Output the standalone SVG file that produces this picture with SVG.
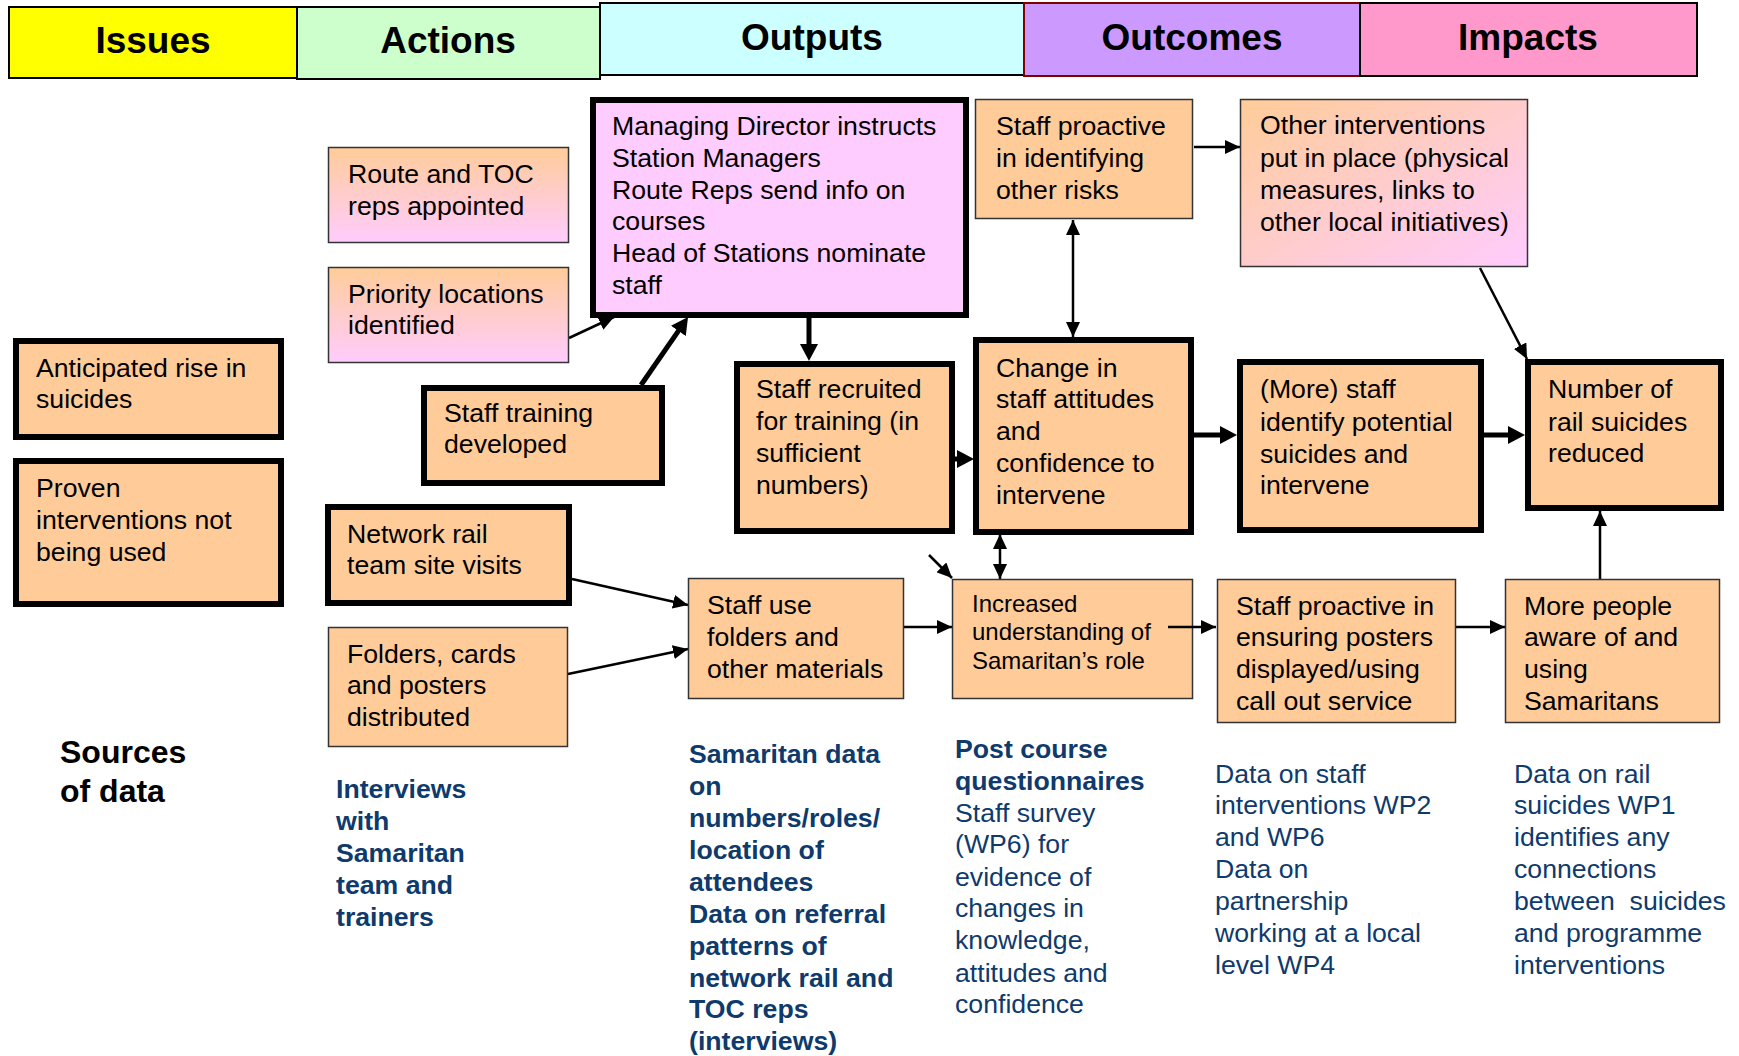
<svg xmlns="http://www.w3.org/2000/svg" width="1739" height="1056" viewBox="0 0 1739 1056">
<style>
text{font-family:"Liberation Sans",Arial,sans-serif;fill:#000}
.hd{font-size:37px;font-weight:bold;text-anchor:middle}
.t{font-size:26.67px}
.s{font-size:24px}
.src{font-size:26.67px;fill:#0E3A6C}
.b{font-weight:bold}
.blk{font-size:32px;font-weight:bold}
.hb{stroke:#000;stroke-width:2}
.thk{fill:#FFCC99;stroke:#000;stroke-width:6}
.thn{fill:#FFCC99;stroke:#333;stroke-width:1.5}
.ln{stroke:#000;stroke-width:2.5;fill:none}
.lk{stroke:#000;stroke-width:5;fill:none}
</style>
<defs>
<linearGradient id="gV" x1="0" y1="0" x2="0" y2="1"><stop offset="0" stop-color="#FFCC99"/><stop offset="1" stop-color="#FFCCFF"/></linearGradient>
<linearGradient id="gD" x1="0" y1="0" x2="1" y2="1"><stop offset="0" stop-color="#FFCC99"/><stop offset="1" stop-color="#FFCCFF"/></linearGradient>
<marker id="ah" viewBox="0 0 15 14" refX="15" refY="7" markerWidth="15" markerHeight="14" markerUnits="userSpaceOnUse" orient="auto-start-reverse"><path d="M0,0 L15,7 L0,14 z" fill="#000"/></marker>
<marker id="tk" viewBox="0 0 17 18" refX="2" refY="9" markerWidth="17" markerHeight="18" markerUnits="userSpaceOnUse" orient="auto"><path d="M0,0 L17,9 L0,18 z" fill="#000"/></marker>
</defs>
<rect width="1739" height="1056" fill="#fff"/>

<g id="header">
<rect class="hb" x="9" y="7" width="288" height="71" fill="#FFFF00"/>
<rect class="hb" x="297" y="7" width="303" height="72" fill="#CCFFCC"/>
<rect class="hb" x="600" y="3" width="424" height="72" fill="#CCFFFF"/>
<rect x="1024" y="3" width="336" height="73" fill="#CC99FF" stroke="#800000" stroke-width="2"/>
<rect class="hb" x="1360" y="3" width="337" height="73" fill="#FF99CC"/>
<text class="hd" x="153" y="53">Issues</text>
<text class="hd" x="448" y="53">Actions</text>
<text class="hd" x="812" y="50">Outputs</text>
<text class="hd" x="1192" y="50">Outcomes</text>
<text class="hd" x="1528" y="50">Impacts</text>
</g>

<g id="connectors">
<line class="ln" x1="569" y1="338" x2="614" y2="317" marker-end="url(#ah)"/>
<line class="lk" x1="641" y1="385" x2="679.5" y2="329.3" marker-end="url(#tk)"/>
<line class="lk" x1="809" y1="318" x2="809" y2="346" marker-end="url(#tk)"/>
<line class="ln" x1="1073" y1="220" x2="1073" y2="337" marker-start="url(#ah)" marker-end="url(#ah)"/>
<line class="lk" x1="955" y1="459" x2="959" y2="459" marker-end="url(#tk)"/>
<line class="lk" x1="1194" y1="435" x2="1222" y2="435" marker-end="url(#tk)"/>
<line class="lk" x1="1484" y1="435" x2="1510" y2="435" marker-end="url(#tk)"/>
<line class="ln" x1="1194" y1="147" x2="1240" y2="147" marker-end="url(#ah)"/>
<line class="ln" x1="1480" y1="268" x2="1527" y2="359" marker-end="url(#ah)"/>
<line class="ln" x1="1600" y1="579" x2="1600" y2="511" marker-end="url(#ah)"/>
<line class="ln" x1="572" y1="579" x2="688" y2="605" marker-end="url(#ah)"/>
<line class="ln" x1="568" y1="674" x2="688" y2="649" marker-end="url(#ah)"/>
<line class="ln" x1="904" y1="627" x2="952" y2="627" marker-end="url(#ah)"/>
<line class="ln" x1="1456" y1="627" x2="1505" y2="627" marker-end="url(#ah)"/>
<line class="ln" x1="1000" y1="534" x2="1000" y2="579" marker-start="url(#ah)" marker-end="url(#ah)"/>
<line class="ln" x1="929" y1="555" x2="952" y2="578" marker-end="url(#ah)"/>
</g>

<g id="n-anticipated"><rect class="thk" x="16" y="341" width="265" height="96"/>
<text class="t" x="36"><tspan x="36" y="377">Anticipated rise in</tspan><tspan x="36" y="408">suicides</tspan></text></g>

<g id="n-proven"><rect class="thk" x="16" y="461" width="265" height="143"/>
<text class="t"><tspan x="36" y="497">Proven</tspan><tspan x="36" y="529">interventions not</tspan><tspan x="36" y="561">being used</tspan></text></g>

<g id="n-route"><rect class="thn" x="328.5" y="147.5" width="240" height="95" style="fill:url(#gV)"/>
<text class="t"><tspan x="348" y="183">Route and TOC</tspan><tspan x="348" y="215">reps appointed</tspan></text></g>

<g id="n-priority"><rect class="thn" x="328.5" y="267.5" width="240" height="95" style="fill:url(#gV)"/>
<text class="t"><tspan x="348" y="303">Priority locations</tspan><tspan x="348" y="334">identified</tspan></text></g>

<g id="n-training"><rect class="thk" x="424" y="388" width="238" height="95"/>
<text class="t"><tspan x="444" y="422">Staff training</tspan><tspan x="444" y="453">developed</tspan></text></g>

<g id="n-network"><rect class="thk" x="328" y="507" width="241" height="96"/>
<text class="t"><tspan x="347" y="543">Network rail</tspan><tspan x="347" y="574">team site visits</tspan></text></g>

<g id="n-folders"><rect class="thn" x="328.5" y="627.5" width="239" height="119"/>
<text class="t"><tspan x="347" y="663">Folders, cards</tspan><tspan x="347" y="694">and posters</tspan><tspan x="347" y="726">distributed</tspan></text></g>

<g id="n-md"><rect class="thk" x="593" y="100" width="373" height="215" style="fill:#FFCCFF"/>
<text class="t"><tspan x="612" y="135">Managing Director instructs</tspan><tspan x="612" y="167">Station Managers</tspan><tspan x="612" y="199">Route Reps send info on</tspan><tspan x="612" y="230">courses</tspan><tspan x="612" y="262">Head of Stations nominate</tspan><tspan x="612" y="294">staff</tspan></text></g>

<g id="n-recruited"><rect class="thk" x="737" y="364" width="215" height="167"/>
<text class="t"><tspan x="756" y="398">Staff recruited</tspan><tspan x="756" y="430">for training (in</tspan><tspan x="756" y="462">sufficient</tspan><tspan x="756" y="494">numbers)</tspan></text></g>

<g id="n-staffuse"><rect class="thn" x="688.5" y="578.5" width="215" height="120"/>
<text class="t"><tspan x="707" y="614">Staff use</tspan><tspan x="707" y="646">folders and</tspan><tspan x="707" y="678">other materials</tspan></text></g>

<g id="n-proactive-risks"><rect class="thn" x="975.5" y="99.5" width="217" height="119"/>
<text class="t"><tspan x="996" y="135">Staff proactive</tspan><tspan x="996" y="167">in identifying</tspan><tspan x="996" y="199">other risks</tspan></text></g>

<g id="n-change"><rect class="thk" x="976" y="340" width="215" height="192"/>
<text class="t"><tspan x="996" y="377">Change in</tspan><tspan x="996" y="408">staff attitudes</tspan><tspan x="996" y="440">and</tspan><tspan x="996" y="472">confidence to</tspan><tspan x="996" y="504">intervene</tspan></text></g>

<g id="n-increased"><rect class="thn" x="952.5" y="579.5" width="240" height="119"/>
<text class="s"><tspan x="972" y="612">Increased</tspan><tspan x="972" y="640">understanding of</tspan><tspan x="972" y="669">Samaritan’s role</tspan></text></g>

<g id="n-other"><rect class="thn" x="1240.5" y="99.5" width="287" height="167" style="fill:url(#gD)"/>
<text class="t"><tspan x="1260" y="134">Other interventions</tspan><tspan x="1260" y="167">put in place (physical</tspan><tspan x="1260" y="199">measures, links to</tspan><tspan x="1260" y="231">other local initiatives)</tspan></text></g>

<g id="n-morestaff"><rect class="thk" x="1240" y="362" width="241" height="168"/>
<text class="t"><tspan x="1260" y="398">(More) staff</tspan><tspan x="1260" y="431">identify potential</tspan><tspan x="1260" y="463">suicides and</tspan><tspan x="1260" y="494">intervene</tspan></text></g>

<g id="n-ensuring"><rect class="thn" x="1217.5" y="579.5" width="238" height="143"/>
<text class="t"><tspan x="1236" y="615">Staff proactive in</tspan><tspan x="1236" y="646">ensuring posters</tspan><tspan x="1236" y="678">displayed/using</tspan><tspan x="1236" y="710">call out service</tspan></text></g>

<g id="n-number"><rect class="thk" x="1528" y="362" width="193" height="146"/>
<text class="t"><tspan x="1548" y="398">Number of</tspan><tspan x="1548" y="431">rail suicides</tspan><tspan x="1548" y="462">reduced</tspan></text></g>

<g id="n-morepeople"><rect class="thn" x="1505.5" y="579.5" width="214" height="143"/>
<text class="t"><tspan x="1524" y="615">More people</tspan><tspan x="1524" y="646">aware of and</tspan><tspan x="1524" y="678">using</tspan><tspan x="1524" y="710">Samaritans</tspan></text></g>

<g id="connectors-over">
<line class="ln" x1="1168" y1="627" x2="1216" y2="627" marker-end="url(#ah)"/>
</g>

<g id="sources">
<text class="blk"><tspan x="60" y="763">Sources</tspan><tspan x="60" y="802">of data</tspan></text>
<text class="src b"><tspan x="336" y="798">Interviews</tspan><tspan x="336" y="830">with</tspan><tspan x="336" y="862">Samaritan</tspan><tspan x="336" y="894">team and</tspan><tspan x="336" y="926">trainers</tspan></text>
<text class="src b"><tspan x="689" y="763">Samaritan data</tspan><tspan x="689" y="795">on</tspan><tspan x="689" y="827">numbers/roles/</tspan><tspan x="689" y="859">location of</tspan><tspan x="689" y="891">attendees</tspan><tspan x="689" y="923">Data on referral</tspan><tspan x="689" y="955">patterns of</tspan><tspan x="689" y="987">network rail and</tspan><tspan x="689" y="1018">TOC reps</tspan><tspan x="689" y="1050">(interviews)</tspan></text>
<text class="src"><tspan x="955" y="758" class="b">Post course</tspan><tspan x="955" y="790" class="b">questionnaires</tspan><tspan x="955" y="822">Staff survey</tspan><tspan x="955" y="853">(WP6) for</tspan><tspan x="955" y="886">evidence of</tspan><tspan x="955" y="917">changes in</tspan><tspan x="955" y="949">knowledge,</tspan><tspan x="955" y="982">attitudes and</tspan><tspan x="955" y="1013">confidence</tspan></text>
<text class="src"><tspan x="1215" y="783">Data on staff</tspan><tspan x="1215" y="814">interventions WP2</tspan><tspan x="1215" y="846">and WP6</tspan><tspan x="1215" y="878">Data on</tspan><tspan x="1215" y="910">partnership</tspan><tspan x="1215" y="942">working at a local</tspan><tspan x="1215" y="974">level WP4</tspan></text>
<text class="src" xml:space="preserve"><tspan x="1514" y="783">Data on rail</tspan><tspan x="1514" y="814">suicides WP1</tspan><tspan x="1514" y="846">identifies any</tspan><tspan x="1514" y="878">connections</tspan><tspan x="1514" y="910">between  suicides</tspan><tspan x="1514" y="942">and programme</tspan><tspan x="1514" y="974">interventions</tspan></text>
</g>
</svg>
